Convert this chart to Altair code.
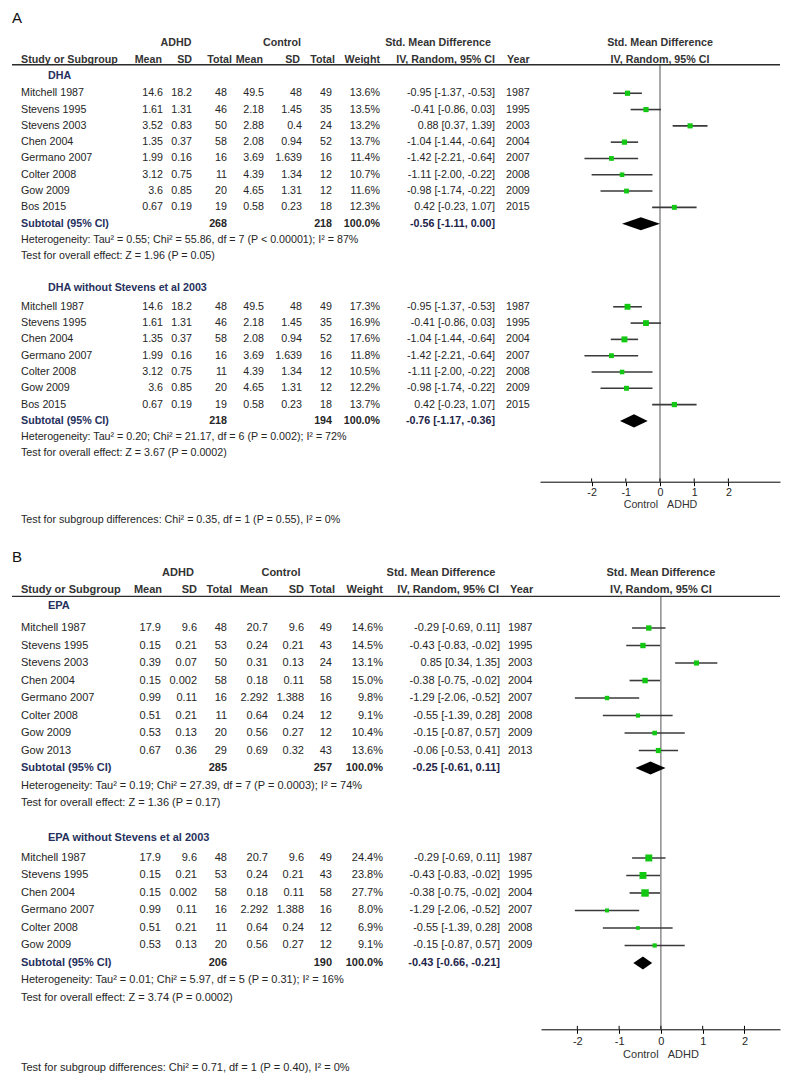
import altair as alt
import pandas as pd

# ================= DATA =================
# Panel A - DHA
A1_study = ["Mitchell 1987", "Stevens 1995", "Stevens 2003", "Chen 2004", "Germano 2007", "Colter 2008", "Gow 2009", "Bos 2015"]
A1_adhd_mean = ["14.6", "1.61", "3.52", "1.35", "1.99", "3.12", "3.6", "0.67"]
A1_adhd_sd = ["18.2", "1.31", "0.83", "0.37", "0.16", "0.75", "0.85", "0.19"]
A1_adhd_n = [48, 46, 50, 58, 16, 11, 20, 19]
A1_ctrl_mean = ["49.5", "2.18", "2.88", "2.08", "3.69", "4.39", "4.65", "0.58"]
A1_ctrl_sd = ["48", "1.45", "0.4", "0.94", "1.639", "1.34", "1.31", "0.23"]
A1_ctrl_n = [49, 35, 24, 52, 16, 12, 12, 18]
A1_weight = [13.6, 13.5, 13.2, 13.7, 11.4, 10.7, 11.6, 12.3]
A1_smd = [-0.95, -0.41, 0.88, -1.04, -1.42, -1.11, -0.98, 0.42]
A1_lo = [-1.37, -0.86, 0.37, -1.44, -2.21, -2.00, -1.74, -0.23]
A1_hi = [-0.53, 0.03, 1.39, -0.64, -0.64, -0.22, -0.22, 1.07]
A1_year = [1987, 1995, 2003, 2004, 2007, 2008, 2009, 2015]
A1_sub_n = [268, 218]
A1_sub_smd = [-0.56, -1.11, 0.00]
A1_het = "Heterogeneity: Tau² = 0.55; Chi² = 55.86, df = 7 (P < 0.00001); I² = 87%"
A1_test = "Test for overall effect: Z = 1.96 (P = 0.05)"

# Panel A - DHA without Stevens et al 2003
A2_study = ["Mitchell 1987", "Stevens 1995", "Chen 2004", "Germano 2007", "Colter 2008", "Gow 2009", "Bos 2015"]
A2_adhd_mean = ["14.6", "1.61", "1.35", "1.99", "3.12", "3.6", "0.67"]
A2_adhd_sd = ["18.2", "1.31", "0.37", "0.16", "0.75", "0.85", "0.19"]
A2_adhd_n = [48, 46, 58, 16, 11, 20, 19]
A2_ctrl_mean = ["49.5", "2.18", "2.08", "3.69", "4.39", "4.65", "0.58"]
A2_ctrl_sd = ["48", "1.45", "0.94", "1.639", "1.34", "1.31", "0.23"]
A2_ctrl_n = [49, 35, 52, 16, 12, 12, 18]
A2_weight = [17.3, 16.9, 17.6, 11.8, 10.5, 12.2, 13.7]
A2_smd = [-0.95, -0.41, -1.04, -1.42, -1.11, -0.98, 0.42]
A2_lo = [-1.37, -0.86, -1.44, -2.21, -2.00, -1.74, -0.23]
A2_hi = [-0.53, 0.03, -0.64, -0.64, -0.22, -0.22, 1.07]
A2_year = [1987, 1995, 2004, 2007, 2008, 2009, 2015]
A2_sub_n = [218, 194]
A2_sub_smd = [-0.76, -1.17, -0.36]
A2_het = "Heterogeneity: Tau² = 0.20; Chi² = 21.17, df = 6 (P = 0.002); I² = 72%"
A2_test = "Test for overall effect: Z = 3.67 (P = 0.0002)"
A_subdiff = "Test for subgroup differences: Chi² = 0.35, df = 1 (P = 0.55), I² = 0%"

# Panel B - EPA
B1_study = ["Mitchell 1987", "Stevens 1995", "Stevens 2003", "Chen 2004", "Germano 2007", "Colter 2008", "Gow 2009", "Gow 2013"]
B1_adhd_mean = ["17.9", "0.15", "0.39", "0.15", "0.99", "0.51", "0.53", "0.67"]
B1_adhd_sd = ["9.6", "0.21", "0.07", "0.002", "0.11", "0.21", "0.13", "0.36"]
B1_adhd_n = [48, 53, 50, 58, 16, 11, 20, 29]
B1_ctrl_mean = ["20.7", "0.24", "0.31", "0.18", "2.292", "0.64", "0.56", "0.69"]
B1_ctrl_sd = ["9.6", "0.21", "0.13", "0.11", "1.388", "0.24", "0.27", "0.32"]
B1_ctrl_n = [49, 43, 24, 58, 16, 12, 12, 43]
B1_weight = [14.6, 14.5, 13.1, 15.0, 9.8, 9.1, 10.4, 13.6]
B1_smd = [-0.29, -0.43, 0.85, -0.38, -1.29, -0.55, -0.15, -0.06]
B1_lo = [-0.69, -0.83, 0.34, -0.75, -2.06, -1.39, -0.87, -0.53]
B1_hi = [0.11, -0.02, 1.35, -0.02, -0.52, 0.28, 0.57, 0.41]
B1_year = [1987, 1995, 2003, 2004, 2007, 2008, 2009, 2013]
B1_sub_n = [285, 257]
B1_sub_smd = [-0.25, -0.61, 0.11]
B1_het = "Heterogeneity: Tau² = 0.19; Chi² = 27.39, df = 7 (P = 0.0003); I² = 74%"
B1_test = "Test for overall effect: Z = 1.36 (P = 0.17)"

# Panel B - EPA without Stevens et al 2003
B2_study = ["Mitchell 1987", "Stevens 1995", "Chen 2004", "Germano 2007", "Colter 2008", "Gow 2009"]
B2_adhd_mean = ["17.9", "0.15", "0.15", "0.99", "0.51", "0.53"]
B2_adhd_sd = ["9.6", "0.21", "0.002", "0.11", "0.21", "0.13"]
B2_adhd_n = [48, 53, 58, 16, 11, 20]
B2_ctrl_mean = ["20.7", "0.24", "0.18", "2.292", "0.64", "0.56"]
B2_ctrl_sd = ["9.6", "0.21", "0.11", "1.388", "0.24", "0.27"]
B2_ctrl_n = [49, 43, 58, 16, 12, 12]
B2_weight = [24.4, 23.8, 27.7, 8.0, 6.9, 9.1]
B2_smd = [-0.29, -0.43, -0.38, -1.29, -0.55, -0.15]
B2_lo = [-0.69, -0.83, -0.75, -2.06, -1.39, -0.87]
B2_hi = [0.11, -0.02, -0.02, -0.52, 0.28, 0.57]
B2_year = [1987, 1995, 2004, 2007, 2008, 2009]
B2_sub_n = [206, 190]
B2_sub_smd = [-0.43, -0.66, -0.21]
B2_het = "Heterogeneity: Tau² = 0.01; Chi² = 5.97, df = 5 (P = 0.31); I² = 16%"
B2_test = "Test for overall effect: Z = 3.74 (P = 0.0002)"
B_subdiff = "Test for subgroup differences: Chi² = 0.71, df = 1 (P = 0.40), I² = 0%"

AXIS_TICKS = [-2, -1, 0, 1, 2]

# ================= STYLE / LAYOUT =================
FONT = "Liberation Sans, Arial, sans-serif"
TXT = "#262626"
HDR = "#333333"
NAVY = "#26305c"
GREEN = "#12c812"
CI_COL = "#3a3a3a"


def group(name, study, am, asd, an, cm, csd, cn, w, smd, lo, hi, yr, sub_n, sub_smd, het, test):
    return dict(name=name, study=study, am=am, asd=asd, an=an, cm=cm, csd=csd, cn=cn,
                w=w, smd=smd, lo=lo, hi=hi, yr=yr, sub_n=sub_n, sub_smd=sub_smd,
                het=het, test=test)


A_groups = [
    group("DHA", A1_study, A1_adhd_mean, A1_adhd_sd, A1_adhd_n, A1_ctrl_mean, A1_ctrl_sd,
          A1_ctrl_n, A1_weight, A1_smd, A1_lo, A1_hi, A1_year, A1_sub_n, A1_sub_smd, A1_het, A1_test),
    group("DHA without Stevens et al 2003", A2_study, A2_adhd_mean, A2_adhd_sd, A2_adhd_n, A2_ctrl_mean,
          A2_ctrl_sd, A2_ctrl_n, A2_weight, A2_smd, A2_lo, A2_hi, A2_year, A2_sub_n, A2_sub_smd, A2_het, A2_test),
]
B_groups = [
    group("EPA", B1_study, B1_adhd_mean, B1_adhd_sd, B1_adhd_n, B1_ctrl_mean, B1_ctrl_sd,
          B1_ctrl_n, B1_weight, B1_smd, B1_lo, B1_hi, B1_year, B1_sub_n, B1_sub_smd, B1_het, B1_test),
    group("EPA without Stevens et al 2003", B2_study, B2_adhd_mean, B2_adhd_sd, B2_adhd_n, B2_ctrl_mean,
          B2_ctrl_sd, B2_ctrl_n, B2_weight, B2_smd, B2_lo, B2_hi, B2_year, B2_sub_n, B2_sub_smd, B2_het, B2_test),
]

LA = dict(
    P=16.3, table_w=532, table_h=532, forest_w=240, forest_h=473.7, fdom=[-3.51, 3.51], fs=10.7,
    cols=dict(letter=12, study=21, grp=48, am=163, asd=192, an=227, cm=264, csd=302, cn=332,
              w=380, smd=495, yr=506),
    hdr=dict(adhd=176, ctrl=282, smd1=438, am=162, asd=192, an=232, cm=263, csd=300, cn=335,
             w=380, smd=495, yr=507),
    y_letter=0.61, y_h1=2.13, y_h2=3.19, y_ul=3.48,
    gpos=[(4.17, 5.23), (17.18, 18.33)], y_sub=31.4, dh=0.4,
)
LB = dict(
    P=17.5, table_w=533, table_h=540, forest_w=239, forest_h=489.3, fdom=[-2.87, 2.85], fs=11,
    cols=dict(letter=12, study=21, grp=48, am=161, asd=197, an=227, cm=268, csd=304, cn=332,
              w=383, smd=500, yr=508),
    hdr=dict(adhd=178, ctrl=281, smd1=441, am=162, asd=197, an=232, cm=268, csd=304, cn=335,
             w=383, smd=499, yr=510),
    y_letter=0.97, y_h1=1.87, y_h2=2.86, y_ul=3.22,
    gpos=[(3.77, 5.03), (17.03, 18.17)], y_sub=30.17, dh=0.37,
)


def fmt_ci(e, lo, hi):
    return f"{e:.2f} [{lo:.2f}, {hi:.2f}]"


def build_panel(letter, groups, subdiff, L):
    recs = []

    def add(x, y, t, s, c=TXT):
        recs.append(dict(x=x - 8, y=y, t=str(t), s=s, c=c))

    cx, hx = L["cols"], L["hdr"]
    add(cx["letter"], L["y_letter"], letter, "big", "#111111")
    # headers
    add(hx["adhd"], L["y_h1"], "ADHD", "cb", HDR)
    add(hx["ctrl"], L["y_h1"], "Control", "cb", HDR)
    add(hx["smd1"], L["y_h1"], "Std. Mean Difference", "cb", HDR)
    add(cx["study"], L["y_h2"], "Study or Subgroup", "lb", HDR)
    for k, t in [("am", "Mean"), ("asd", "SD"), ("an", "Total"), ("cm", "Mean"), ("csd", "SD"),
                 ("cn", "Total"), ("w", "Weight"), ("smd", "IV, Random, 95% CI")]:
        add(hx[k], L["y_h2"], t, "rb", HDR)
    add(hx["yr"], L["y_h2"], "Year", "lb", HDR)

    ci_rows, dia_rows = [], []
    for gi, (g, (ylab, y0)) in enumerate(zip(groups, L["gpos"])):
        add(cx["grp"], ylab, g["name"], "lb", NAVY)
        n = len(g["study"])
        for i in range(n):
            y = y0 + i
            add(cx["study"], y, g["study"][i], "ln")
            add(cx["am"], y, g["am"][i], "rn")
            add(cx["asd"], y, g["asd"][i], "rn")
            add(cx["an"], y, g["an"][i], "rn")
            add(cx["cm"], y, g["cm"][i], "rn")
            add(cx["csd"], y, g["csd"][i], "rn")
            add(cx["cn"], y, g["cn"][i], "rn")
            add(cx["w"], y, f"{g['w'][i]:.1f}%", "rn")
            add(cx["smd"], y, fmt_ci(g["smd"][i], g["lo"][i], g["hi"][i]), "rn")
            add(cx["yr"], y, g["yr"][i], "ln")
            ci_rows.append(dict(est=g["smd"][i], lo=g["lo"][i], hi=g["hi"][i], y=y,
                                sz=2.0 * g["w"][i]))
        ys = y0 + n
        add(cx["study"], ys, "Subtotal (95% CI)", "lb", NAVY)
        add(cx["an"], ys, g["sub_n"][0], "rb")
        add(cx["cn"], ys, g["sub_n"][1], "rb")
        add(cx["w"], ys, "100.0%", "rb")
        e, lo, hi = g["sub_smd"]
        add(cx["smd"], ys, fmt_ci(e, lo, hi), "rb", "#1e2448")
        add(cx["study"], ys + 1, g["het"], "ln")
        add(cx["study"], ys + 2, g["test"], "ln")
        dh = L["dh"]
        dia_rows += [dict(g=gi, dx=lo, dy=ys, dy2=ys),
                     dict(g=gi, dx=e, dy=ys - dh, dy2=ys + dh),
                     dict(g=gi, dx=hi, dy=ys, dy2=ys)]
    add(cx["study"], L["y_sub"], subdiff, "ln")

    # ---------- table chart ----------
    df = pd.DataFrame(recs)
    W = L["table_w"]
    D = L["table_h"] / L["P"]
    xs = alt.Scale(domain=[0, W], nice=False, zero=False)
    ysc = alt.Scale(domain=[0, D], reverse=True, nice=False, zero=False)
    base = alt.Chart(df).encode(
        x=alt.X("x:Q", scale=xs, axis=None),
        y=alt.Y("y:Q", scale=ysc, axis=None),
        text="t:N",
        color=alt.Color("c:N", scale=None),
    )
    fs = L["fs"]
    styles = {
        "ln": dict(align="left", fontWeight="normal", font=FONT, fontSize=fs),
        "rn": dict(align="right", fontWeight="normal", font=FONT, fontSize=fs),
        "lb": dict(align="left", fontWeight="bold", font=FONT, fontSize=fs),
        "rb": dict(align="right", fontWeight="bold", font=FONT, fontSize=fs),
        "cb": dict(align="center", fontWeight="bold", font=FONT, fontSize=fs),
        "big": dict(align="left", fontWeight="normal", font=FONT, fontSize=15),
    }
    layers = [base.transform_filter(alt.datum.s == k).mark_text(baseline="middle", **v)
              for k, v in styles.items()]
    ul = pd.DataFrame({"x": [12 - 8], "x2": [W], "y": [L["y_ul"]]})
    rule = alt.Chart(ul).mark_rule(color="#2b2b2b", strokeWidth=1.4).encode(
        x=alt.X("x:Q", scale=xs, axis=None), x2="x2:Q", y=alt.Y("y:Q", scale=ysc, axis=None))
    table = alt.layer(*layers, rule).properties(width=W, height=L["table_h"])

    # ---------- forest chart ----------
    FD = L["forest_h"] / L["P"]
    fx = alt.Scale(domain=L["fdom"], nice=False, zero=False)
    fy = alt.Scale(domain=[0, FD], reverse=True, nice=False, zero=False)
    xaxis = alt.Axis(values=AXIS_TICKS, title="Control\u00a0\u00a0\u00a0ADHD", grid=False,
                     labelExpr="'' + datum.value", labelFont=FONT, labelFontSize=fs,
                     labelColor=TXT, labelPadding=2, labelFlush=False,
                     titleFont=FONT, titleFontSize=fs, titleFontWeight="normal",
                     titleColor="#333333", titlePadding=2,
                     domainColor="#000000", domainWidth=1, tickColor="#000000",
                     tickSize=4, tickWidth=1)

    def FX(f):
        return alt.X(f, scale=fx, axis=xaxis)

    def FY(f):
        return alt.Y(f, scale=fy, axis=None)

    zero = alt.Chart(pd.DataFrame({"x": [0], "y": [L["y_ul"]], "y2": [FD]})).mark_rule(
        color="#555555", strokeWidth=1).encode(x=FX("x:Q"), y=FY("y:Q"), y2="y2:Q")
    ul2 = alt.Chart(pd.DataFrame({"x": [L["fdom"][0]], "x2": [L["fdom"][1]], "y": [L["y_ul"]]})).mark_rule(
        color="#2b2b2b", strokeWidth=1.4).encode(x=FX("x:Q"), x2="x2:Q", y=FY("y:Q"))
    # upper half of the crossing tick marks
    tk = alt.Chart(pd.DataFrame({"x": AXIS_TICKS, "y": [FD - 0.2] * len(AXIS_TICKS),
                                 "y2": [FD] * len(AXIS_TICKS)})).mark_rule(
        color="#000000", strokeWidth=1).encode(x=FX("x:Q"), y=FY("y:Q"), y2="y2:Q")
    cidf = pd.DataFrame(ci_rows)
    ci = alt.Chart(cidf).mark_rule(color=CI_COL, strokeWidth=1.6).encode(
        x=FX("lo:Q"), x2="hi:Q", y=FY("y:Q"))
    sq = alt.Chart(cidf).mark_point(shape="square", filled=True, opacity=1, color=GREEN).encode(
        x=FX("est:Q"), y=FY("y:Q"), size=alt.Size("sz:Q", scale=None))
    dia = alt.Chart(pd.DataFrame(dia_rows)).mark_area(color="#000000").encode(
        x=FX("dx:Q"), y=FY("dy:Q"), y2="dy2:Q", detail="g:N")
    hdf = pd.DataFrame({"x": [0, 0], "y": [L["y_h1"], L["y_h2"]],
                        "t": ["Std. Mean Difference", "IV, Random, 95% CI"]})
    hdr = alt.Chart(hdf).mark_text(font=FONT, fontSize=fs, fontWeight="bold", color=HDR,
                                   baseline="middle", align="center").encode(
        x=FX("x:Q"), y=FY("y:Q"), text="t:N")
    forest = alt.layer(zero, ul2, tk, ci, sq, dia, hdr).properties(
        width=L["forest_w"], height=L["forest_h"])

    return alt.hconcat(table, forest, spacing=0, bounds="flush")


panelA = build_panel("A", A_groups, A_subdiff, LA)
panelB = build_panel("B", B_groups, B_subdiff, LB)

chart = alt.vconcat(panelA, panelB, spacing=0, padding=0).configure_view(stroke=None)

chart.save("out.html", embed_options={"renderer": "svg", "actions": False})
